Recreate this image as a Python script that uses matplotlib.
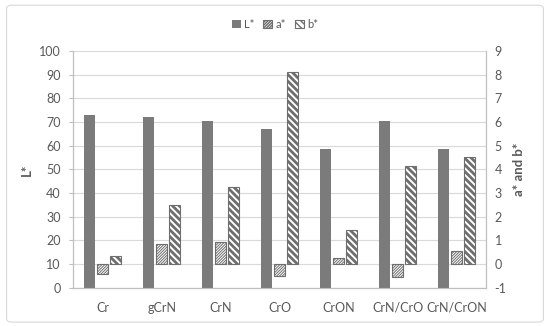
import matplotlib.pyplot as plt
import numpy as np
from matplotlib.patches import FancyBboxPatch

# ------------------------------------------------------------
# Colour coordinates L*, a*, b* for the coatings
# ------------------------------------------------------------

SAMPLES = ["Cr", "gCrN", "CrN", "CrO", "CrON", "CrN/CrO", "CrN/CrON"]
L_STAR = [72.8, 72.1, 70.6, 67.2, 58.7, 70.4, 58.5]
A_STAR = [-0.42, 0.86, 0.92, -0.50, 0.26, -0.55, 0.57]
B_STAR = [0.34, 2.48, 3.27, 8.10, 1.46, 4.14, 4.53]

L_TICKS = list(range(0, 101, 10))
AB_TICKS = list(range(-1, 10))

TEXT_COLOR = "#595959"
GRID_COLOR = "#d9d9d9"
AXIS_COLOR = "#bfbfbf"
BAR_COLOR = "#7b7b7b"
EDGE_COLOR = "#6e6e6e"

plt.rcParams["font.family"] = ["Lato", "DejaVu Sans"]
plt.rcParams["axes.unicode_minus"] = False

fig = plt.figure(figsize=(5.5, 3.26), dpi=100)
fig.patches.append(
    FancyBboxPatch(
        (0.012, 0.012), 0.976, 0.972,
        boxstyle="round,pad=0,rounding_size=0.01",
        transform=fig.transFigure, facecolor="none",
        edgecolor="#d9d9d9", linewidth=0.8,
    )
)

ax = fig.add_axes([0.133, 0.117, 0.751, 0.727])
ax2 = ax.twinx()

x = np.arange(len(SAMPLES))
width = 0.19
offset = 0.22

ax.bar(x - offset, L_STAR, width, color=BAR_COLOR, zorder=3, label="L*")

with plt.rc_context({"hatch.linewidth": 0.7, "hatch.color": EDGE_COLOR}):
    ax2.bar(x, A_STAR, width, color="white", edgecolor=EDGE_COLOR,
            hatch="/" * 12, linewidth=0.8, zorder=3, label="a*")
with plt.rc_context({"hatch.linewidth": 2.0, "hatch.color": EDGE_COLOR}):
    ax2.bar(x + offset, B_STAR, width, color="white", edgecolor=EDGE_COLOR,
            hatch="\\" * 5, linewidth=0.8, zorder=3, label="b*")

ax.set_xlim(-0.5, len(SAMPLES) - 0.5)
ax.set_ylim(0, 100)
ax2.set_ylim(-1, 9)
ax.set_yticks(L_TICKS)
ax2.set_yticks(AB_TICKS)
ax.set_xticks(x)
ax.set_xticklabels(SAMPLES)

ax.grid(axis="y", color=GRID_COLOR, linewidth=0.8, zorder=0)
ax.set_axisbelow(True)

for a in (ax, ax2):
    a.spines["top"].set_visible(False)
    a.spines["left"].set_color(AXIS_COLOR)
    a.spines["right"].set_color(AXIS_COLOR)
    a.spines["bottom"].set_color(AXIS_COLOR)
    a.tick_params(colors=TEXT_COLOR, labelsize=9, length=0, pad=6)

ax.tick_params(axis="y", length=3, color=AXIS_COLOR)
ax.tick_params(axis="x", pad=10)

ax.set_ylabel("L*", color=TEXT_COLOR, fontsize=9.5, fontweight="bold", labelpad=4)
ax2.set_ylabel("a* and b*", color=TEXT_COLOR, fontsize=9.5, fontweight="bold", labelpad=5)

h1, l1 = ax.get_legend_handles_labels()
h2, l2 = ax2.get_legend_handles_labels()
fig.legend(
    h1 + h2, l1 + l2, loc="center", bbox_to_anchor=(0.5, 0.925), ncol=3,
    frameon=False, fontsize=8, labelcolor=TEXT_COLOR,
    handlelength=0.8, handleheight=0.8, handletextpad=0.3, columnspacing=0.8,
)

fig.savefig("out.png", dpi=100)
